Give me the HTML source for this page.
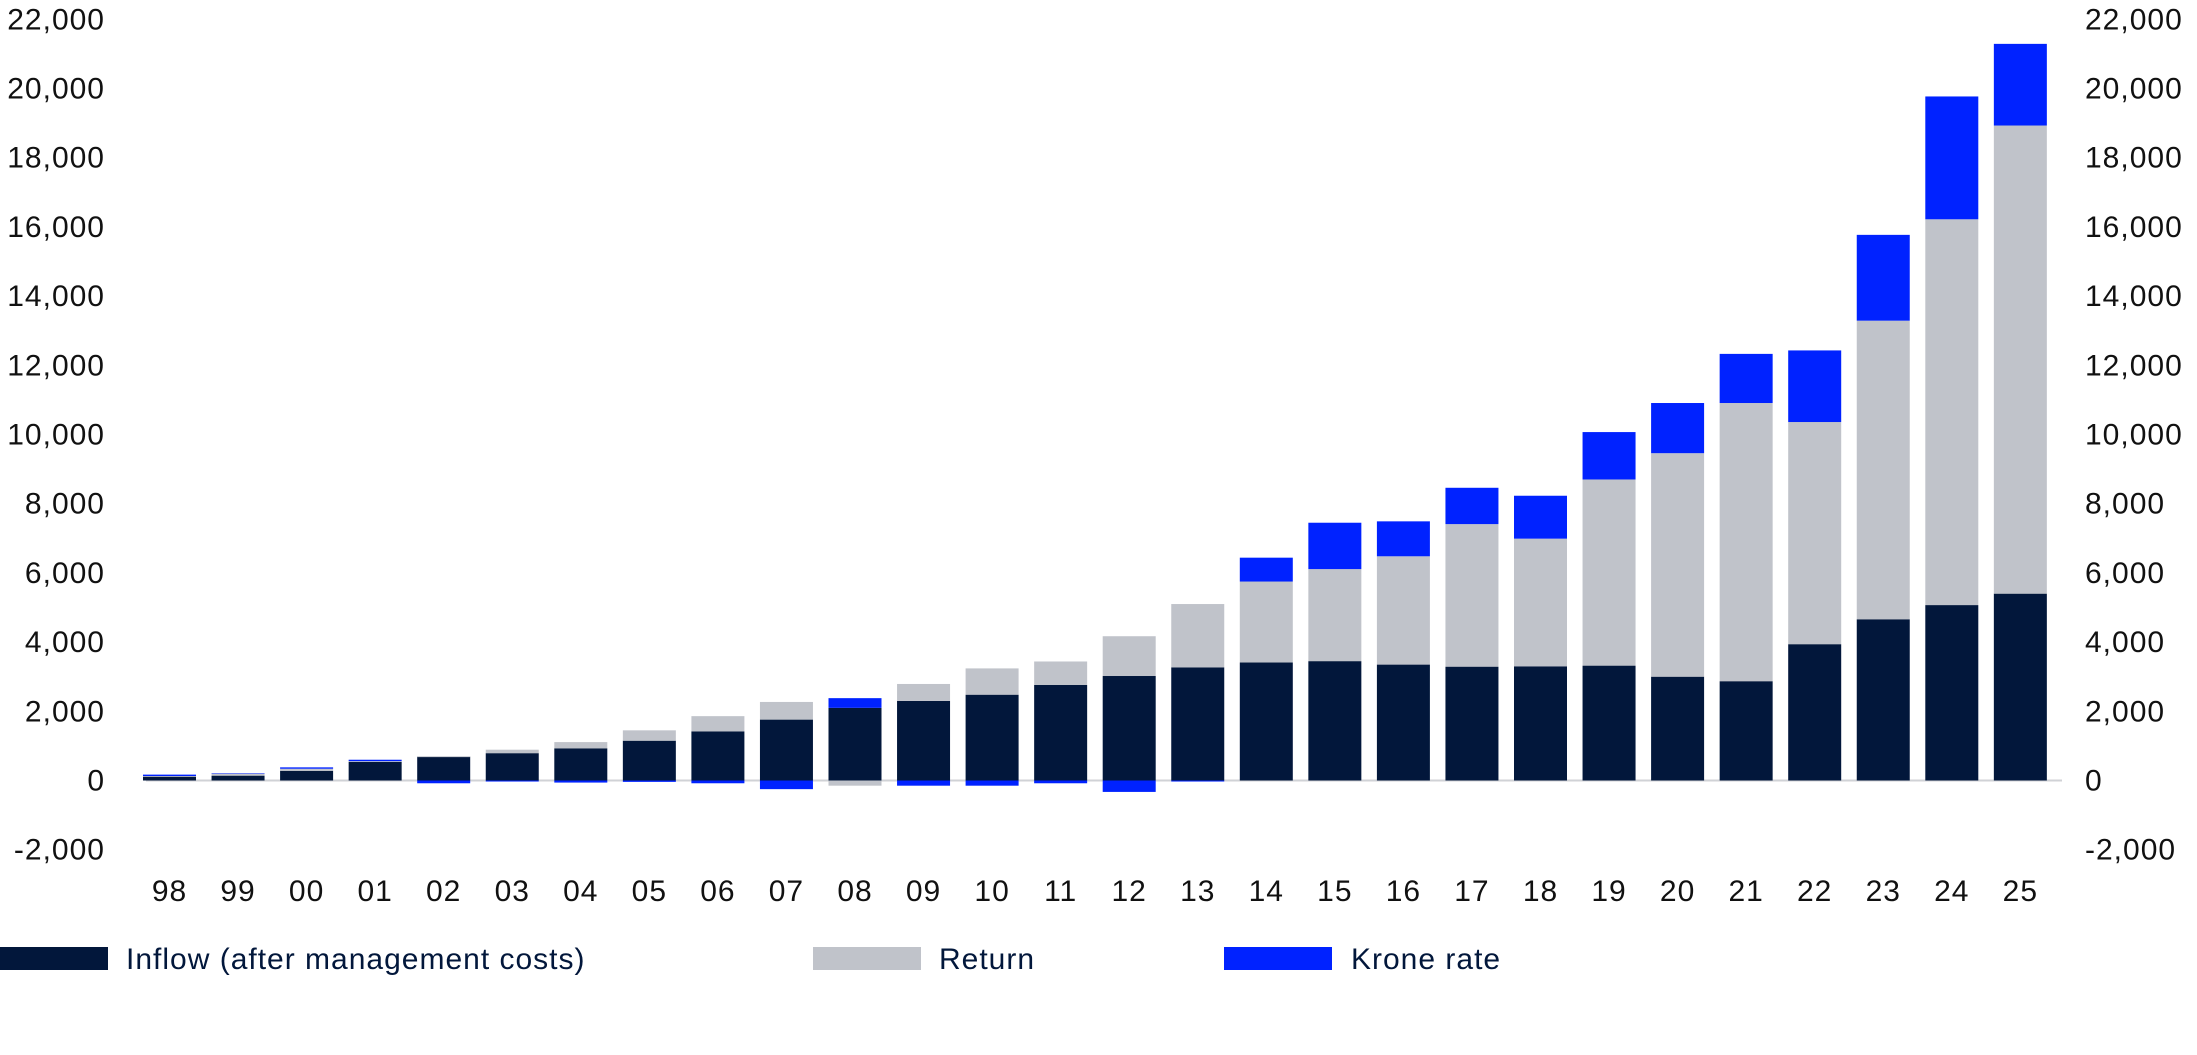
<!DOCTYPE html>
<html><head><meta charset="utf-8"><style>
html,body{margin:0;padding:0;background:#fff;}
svg{display:block;font-family:"Liberation Sans",sans-serif;}
text{letter-spacing:1px;}
</style></head><body>
<svg id="c" width="2197" height="1055" viewBox="0 0 2197 1055" xmlns="http://www.w3.org/2000/svg"></svg>
<script>
const NS="http://www.w3.org/2000/svg",svg=document.getElementById('c');
function el(t,a,txt){const e=document.createElementNS(NS,t);for(const k in a)e.setAttribute(k,a[k]);if(txt!==undefined)e.textContent=txt;svg.appendChild(e);return e;}
const z=780.5,k=69.2/2000;const Y=v=>z-v*k;
for(let v=-2000;v<=22000;v+=2000){
 const s=v.toLocaleString('en-US');
 el('text',{x:105,y:Y(v)+10,'text-anchor':'end','font-size':30,fill:'#111'},s);
 el('text',{x:2085,y:Y(v)+10,'text-anchor':'start','font-size':30,fill:'#111'},s);
}
const d=[
['98',110,20,40],['99',140,60,10],['00',280,60,40],['01',540,20,40],['02',690,0,-80],
['03',790,100,-30],['04',930,180,-60],['05',1150,300,-40],['06',1420,440,-80],['07',1760,510,-250],
['08',2100,-150,280],['09',2300,490,-150],['10',2480,760,-150],['11',2760,680,-80],['12',3020,1150,-330],
['13',3270,1830,-30],['14',3410,2340,690],['15',3450,2660,1340],['16',3350,3130,1010],['17',3290,4120,1050],
['18',3300,3690,1240],['19',3320,5380,1370],['20',3000,6460,1450],['21',2870,8040,1420],['22',3940,6420,2070],
['23',4660,8630,2480],['24',5070,11150,3550],['25',5400,13530,2360]];
const cols=['#02173b','#c0c3ca','#0022ff'];
el('line',{x1:146,x2:2062,y1:z,y2:z,stroke:'#d0d2d6','stroke-width':2});
d.forEach((r,i)=>{
 const cx=169.5+i*68.55,w=53,x=cx-w/2;let pos=0,neg=0;
 for(let j=1;j<=3;j++){const v=r[j];let a,b;
  if(v>=0){a=pos;b=pos+v;pos=b;}else{a=neg;b=neg+v;neg=b;}
  const y1=Y(Math.max(a,b)),y2=Y(Math.min(a,b));
  el('rect',{x:x,y:y1,width:w,height:Math.max(y2-y1,0.5),fill:cols[j-1]});}
 el('text',{x:cx,y:901,'text-anchor':'middle','font-size':30,fill:'#111'},r[0]);
});
const L=[[0,126,'Inflow (after management costs)',cols[0]],[813,939,'Return',cols[1]],[1224,1351,'Krone rate',cols[2]]];
L.forEach(l=>{el('rect',{x:l[0],y:947,width:108,height:23,fill:l[3]});
 el('text',{x:l[1],y:969,'font-size':30,fill:'#02173b'},l[2]);});
</script>
</body></html>
